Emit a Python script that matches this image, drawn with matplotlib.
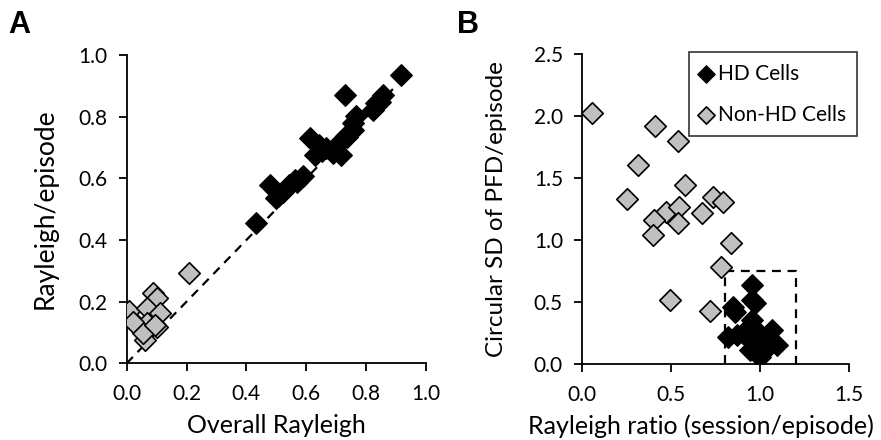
import numpy as np
import matplotlib.pyplot as plt

plt.rcParams['font.family'] = ['Lato', 'DejaVu Sans']

# panel A: overall Rayleigh vs Rayleigh per episode
hd_overall = [0.917, 0.731, 0.855, 0.833, 0.822, 0.846, 0.767, 0.755, 0.755, 0.733,
              0.711, 0.746, 0.611, 0.644, 0.628, 0.667, 0.689, 0.717, 0.651, 0.589,
              0.561, 0.544, 0.522, 0.500, 0.478, 0.433, 0.568, 0.735]
hd_episode = [0.936, 0.871, 0.871, 0.844, 0.822, 0.849, 0.801, 0.779, 0.757, 0.736,
              0.714, 0.751, 0.730, 0.709, 0.676, 0.698, 0.682, 0.676, 0.692, 0.606,
              0.595, 0.579, 0.557, 0.536, 0.579, 0.455, 0.589, 0.735]
non_overall = [0.209, 0.009, 0.089, 0.102, 0.067, 0.111, 0.033, 0.067, 0.100, 0.061,
               0.056, 0.022, 0.094]
non_episode = [0.292, 0.171, 0.227, 0.213, 0.178, 0.162, 0.124, 0.130, 0.119, 0.076,
               0.097, 0.135, 0.124]

# panel B: Rayleigh ratio vs circular SD
hd_ratio = [0.952, 0.952, 0.970, 0.848, 0.858, 0.952, 0.820, 0.867, 0.905, 0.989,
            1.064, 0.942, 1.008, 1.092, 0.980, 0.942, 1.008, 0.998, 1.045]
hd_sd = [0.637, 0.516, 0.489, 0.462, 0.422, 0.355, 0.220, 0.234, 0.248, 0.261,
         0.274, 0.194, 0.180, 0.153, 0.127, 0.113, 0.086, 0.059, 0.194]
non_ratio = [0.056, 0.408, 0.539, 0.315, 0.577, 0.253, 0.732, 0.792, 0.468, 0.545,
             0.674, 0.404, 0.539, 0.399, 0.833, 0.779, 0.493, 0.717]
non_sd = [2.022, 1.919, 1.801, 1.605, 1.444, 1.331, 1.344, 1.309, 1.228, 1.269,
          1.215, 1.161, 1.134, 1.040, 0.973, 0.785, 0.516, 0.430]

grey = '#c0c0c0'

fig = plt.figure(figsize=(8.81, 4.4), dpi=100)
axA = fig.add_axes([0.1438, 0.1743, 0.3397, 0.7007])
axB = fig.add_axes([0.661, 0.1727, 0.303, 0.7045])

def style_axes(ax):
    for s in ['top', 'right']:
        ax.spines[s].set_visible(False)
    for s in ['left', 'bottom']:
        ax.spines[s].set_linewidth(1.3)
    ax.tick_params(direction='out', length=6, width=1.3, labelsize=15)
    ax.tick_params(axis='x', pad=9)
    ax.tick_params(axis='y', pad=8)

# A
axA.plot([0, 0.9], [0, 0.9], '--', color='black', lw=1.6, dashes=(4, 3), zorder=1)
axA.scatter(hd_overall, hd_episode, marker='D', s=120, c='black', edgecolors='black',
            linewidths=1, zorder=3)
axA.scatter(non_overall, non_episode, marker='D', s=120, c=grey, edgecolors='black',
            linewidths=1.2, zorder=3)
axA.set_xlim(0, 1.0)
axA.set_ylim(0, 1.0)
axA.set_xticks(np.arange(0, 1.01, 0.2))
axA.set_yticks(np.arange(0, 1.01, 0.2))
axA.xaxis.set_major_formatter(plt.FormatStrFormatter('%.1f'))
axA.yaxis.set_major_formatter(plt.FormatStrFormatter('%.1f'))
axA.set_xlabel('Overall Rayleigh', fontsize=18, labelpad=7)
axA.set_ylabel('Rayleigh/episode', fontsize=19, labelpad=15)
style_axes(axA)

# B
axB.plot([0.8, 0.8, 1.2, 1.2], [0, 0.75, 0.75, 0], '--', color='black', lw=1.6,
         dashes=(4, 3), zorder=1)
axB.scatter(hd_ratio, hd_sd, marker='D', s=120, c='black', edgecolors='black',
            linewidths=1, zorder=3, label='HD Cells')
axB.scatter(non_ratio, non_sd, marker='D', s=120, c=grey, edgecolors='black',
            linewidths=1.2, zorder=3, label='Non-HD Cells')
axB.set_xlim(0, 1.5)
axB.set_ylim(0, 2.5)
axB.set_xticks(np.arange(0, 1.51, 0.5))
axB.set_yticks(np.arange(0, 2.51, 0.5))
axB.xaxis.set_major_formatter(plt.FormatStrFormatter('%.1f'))
axB.yaxis.set_major_formatter(plt.FormatStrFormatter('%.1f'))
axB.set_xlabel('Rayleigh ratio (session/episode)', fontsize=18, labelpad=7)
axB.xaxis.label.set_x(0.446)
axB.set_ylabel('Circular SD of PFD/episode', fontsize=17.5, labelpad=19)
style_axes(axB)
leg = axB.legend(loc='upper right', bbox_to_anchor=(1.03, 1.005), borderaxespad=0,
                 fontsize=15, frameon=True, fancybox=False, handletextpad=0.25,
                 handlelength=0.6, markerscale=0.8, borderpad=0.55, labelspacing=1.0)
leg.get_frame().set_edgecolor('black')
leg.get_frame().set_linewidth(1.2)

fig.text(0.009, 0.925, 'A', fontsize=22, fontweight='bold', family='Liberation Sans')
fig.text(0.519, 0.925, 'B', fontsize=22, fontweight='bold', family='Liberation Sans')

fig.savefig('out.png', dpi=100)
